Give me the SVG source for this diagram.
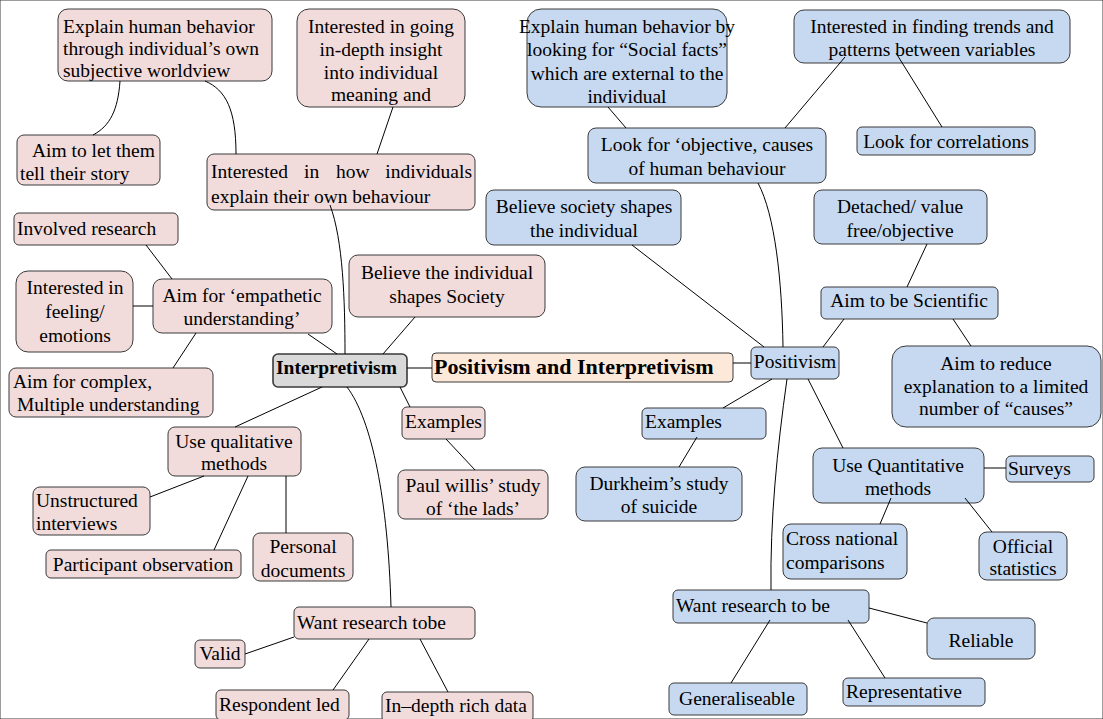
<svg xmlns="http://www.w3.org/2000/svg" width="1103" height="719" viewBox="0 0 1103 719" font-family="'Liberation Serif', 'Times New Roman', Times, 'DejaVu Serif', serif">
  <style>
    text { font-family: "Liberation Serif", "Times New Roman", Times, "DejaVu Serif", serif; font-size: 19.5px; fill: #000; }
    .c { text-anchor: middle; }
    .e { text-anchor: end; }
    .b { font-weight: bold; }
    .big { font-size: 22px; }
    rect { stroke: #3a3a3a; stroke-width: 1; }
    .pk { fill: #f2dcdb; }
    .bl { fill: #c6d9f1; }
    .root { fill: #fde9d9; }
    .gr { fill: #d9d9d9; stroke-width: 1.6; }
    #connectors path, #connectors line { stroke: #000; stroke-width: 1; fill: none; }
  </style>
  <rect width="1103" height="719" fill="#fff" stroke="none"/>

  <!-- centre nodes -->
  <g id="n-root"><rect class="root" x="432" y="353" width="301" height="29" rx="4"/><text class="b big" x="434" y="374">Positivism and Interpretivism</text></g>
  <g id="n-interpretivism"><rect class="gr" x="273" y="354" width="134" height="33" rx="5"/><text class="b" x="276" y="374">Interpretivism</text></g>
  <g id="n-positivism"><rect class="bl" x="751" y="347" width="88" height="32" rx="5"/><text class="c" x="795" y="368">Positivism</text></g>

  <!-- interpretivism nodes -->
  <g id="n-subjective"><rect class="pk" x="58" y="9" width="214" height="72" rx="10"/>
    <text x="63" y="33">Explain human behavior</text><text x="63" y="55">through individual’s own</text><text x="63" y="77">subjective worldview</text></g>
  <g id="n-insight"><rect class="pk" x="297" y="9" width="168" height="98" rx="12"/>
    <text class="c" x="381" y="33">Interested in going</text><text class="c" x="381" y="56">in-depth insight</text><text class="c" x="381" y="79">into individual</text><text class="c" x="381" y="101">meaning and</text></g>
  <g id="n-story"><rect class="pk" x="17" y="135" width="143" height="50" rx="7"/>
    <text x="32" y="157">Aim to let them</text><text x="20" y="180">tell their story</text></g>
  <g id="n-explain-own"><rect class="pk" x="207" y="154" width="268" height="56" rx="7"/>
    <!-- justified first line -->
    <text x="211" y="178">Interested</text><text x="304" y="178">in</text><text x="336" y="178">how</text><text class="e" x="472" y="178">individuals</text>
    <text x="211" y="203">explain their own behaviour</text></g>
  <g id="n-involved"><rect class="pk" x="14" y="213" width="164" height="32" rx="5"/><text x="17" y="235">Involved research</text></g>
  <g id="n-feeling"><rect class="pk" x="16" y="271" width="117" height="81" rx="12"/>
    <text class="c" x="75" y="294">Interested in</text><text class="c" x="75" y="318">feeling/</text><text class="c" x="75" y="342">emotions</text></g>
  <g id="n-empathetic"><rect class="pk" x="153" y="279" width="179" height="54" rx="9"/>
    <text class="c" x="242" y="302">Aim for ‘empathetic</text><text class="c" x="242" y="325">understanding’</text></g>
  <g id="n-complex"><rect class="pk" x="9" y="368" width="204" height="49" rx="7"/>
    <text x="13" y="388">Aim for complex,</text><text x="17" y="411">Multiple understanding</text></g>
  <g id="n-individual-society"><rect class="pk" x="349" y="255" width="196" height="62" rx="9"/>
    <text class="c" x="447" y="279">Believe the individual</text><text class="c" x="447" y="303">shapes Society</text></g>
  <g id="n-examples-i"><rect class="pk" x="402" y="407" width="83" height="32" rx="5"/><text x="405" y="428">Examples</text></g>
  <g id="n-willis"><rect class="pk" x="398" y="470" width="150" height="49" rx="7"/>
    <text class="c" x="473" y="492">Paul willis’ study</text><text class="c" x="473" y="515">of ‘the lads’</text></g>
  <g id="n-qualitative"><rect class="pk" x="168" y="427" width="133" height="49" rx="7"/>
    <text class="c" x="234" y="448">Use qualitative</text><text class="c" x="234" y="470">methods</text></g>
  <g id="n-unstructured"><rect class="pk" x="33" y="487" width="117" height="48" rx="7"/>
    <text x="36" y="507">Unstructured</text><text x="36" y="530">interviews</text></g>
  <g id="n-participant"><rect class="pk" x="46" y="550" width="195" height="28" rx="5"/><text class="c" x="143" y="571">Participant observation</text></g>
  <g id="n-personal"><rect class="pk" x="253" y="533" width="100" height="48" rx="7"/>
    <text class="c" x="303" y="553">Personal</text><text class="c" x="303" y="577">documents</text></g>
  <g id="n-want-i"><rect class="pk" x="294" y="607" width="181" height="32" rx="5"/><text x="297" y="629">Want research tobe</text></g>
  <g id="n-valid"><rect class="pk" x="195" y="640" width="50" height="28" rx="5"/><text class="c" x="220" y="660">Valid</text></g>
  <g id="n-respondent"><rect class="pk" x="216" y="690" width="133" height="30" rx="5"/><text x="219" y="711">Respondent led</text></g>
  <g id="n-indepth"><rect class="pk" x="382" y="692" width="151" height="30" rx="5"/><text x="385" y="712">In–depth rich data</text></g>

  <!-- positivism nodes -->
  <g id="n-social-facts"><rect class="bl" x="527" y="9" width="200" height="98" rx="14"/>
    <text class="c" x="627" y="33">Explain human behavior by</text><text class="c" x="627" y="56">looking for “Social facts”</text><text class="c" x="627" y="80">which are external to the</text><text class="c" x="627" y="103">individual</text></g>
  <g id="n-trends"><rect class="bl" x="794" y="10" width="276" height="53" rx="10"/>
    <text class="c" x="932" y="33">Interested in finding trends and</text><text class="c" x="932" y="56">patterns between variables</text></g>
  <g id="n-objective"><rect class="bl" x="588" y="128" width="238" height="55" rx="8"/>
    <text class="c" x="707" y="151">Look for ‘objective, causes</text><text class="c" x="707" y="175">of human behaviour</text></g>
  <g id="n-correlations"><rect class="bl" x="857" y="127" width="178" height="28" rx="5"/><text class="c" x="946" y="148">Look for correlations</text></g>
  <g id="n-society-shapes"><rect class="bl" x="486" y="190" width="195" height="55" rx="8"/>
    <text class="c" x="584" y="213">Believe society shapes</text><text class="c" x="584" y="237">the individual</text></g>
  <g id="n-detached"><rect class="bl" x="814" y="190" width="173" height="54" rx="8"/>
    <text class="c" x="900" y="213">Detached/ value</text><text class="c" x="900" y="237">free/objective</text></g>
  <g id="n-scientific"><rect class="bl" x="821" y="287" width="177" height="32" rx="5"/><text class="c" x="909" y="307">Aim to be Scientific</text></g>
  <g id="n-reduce"><rect class="bl" x="892" y="346" width="209" height="81" rx="14"/>
    <text class="c" x="996" y="370">Aim to reduce</text><text class="c" x="996" y="393">explanation to a limited</text><text class="c" x="996" y="415">number of “causes”</text></g>
  <g id="n-examples-p"><rect class="bl" x="642" y="408" width="124" height="31" rx="5"/><text x="645" y="428">Examples</text></g>
  <g id="n-durkheim"><rect class="bl" x="576" y="467" width="166" height="54" rx="9"/>
    <text class="c" x="659" y="490">Durkheim’s study</text><text class="c" x="659" y="513">of suicide</text></g>
  <g id="n-quantitative"><rect class="bl" x="813" y="448" width="171" height="55" rx="9"/>
    <text class="c" x="898" y="472">Use Quantitative</text><text class="c" x="898" y="495">methods</text></g>
  <g id="n-surveys"><rect class="bl" x="1006" y="456" width="88" height="26" rx="5"/><text x="1008" y="475">Surveys</text></g>
  <g id="n-cross"><rect class="bl" x="783" y="524" width="124" height="55" rx="8"/>
    <text x="786" y="545">Cross national</text><text x="786" y="569">comparisons</text></g>
  <g id="n-official"><rect class="bl" x="979" y="532" width="88" height="48" rx="8"/>
    <text class="c" x="1023" y="553">Official</text><text class="c" x="1023" y="575">statistics</text></g>
  <g id="n-want-p"><rect class="bl" x="673" y="590" width="196" height="33" rx="5"/><text x="676" y="612">Want research to be</text></g>
  <g id="n-reliable"><rect class="bl" x="927" y="618" width="108" height="41" rx="7"/><text class="c" x="981" y="647">Reliable</text></g>
  <g id="n-generaliseable"><rect class="bl" x="669" y="683" width="138" height="32" rx="5"/><text class="c" x="737" y="705">Generaliseable</text></g>
  <g id="n-representative"><rect class="bl" x="843" y="678" width="142" height="28" rx="5"/><text x="846" y="698">Representative</text></g>

  <g id="connectors">
    <!-- centre -->
    <line x1="407" y1="368" x2="432" y2="368"/>
    <line x1="733" y1="363" x2="751" y2="363"/>
    <!-- interpretivism branch -->
    <path d="M330,205 C343,240 345,300 345,354"/>
    <path d="M236,154 C236,110 226,90 205,81"/>
    <line x1="377" y1="154" x2="393" y2="107"/>
    <path d="M120,81 C118,110 110,126 93,135"/>
    <line x1="308" y1="334" x2="337" y2="354"/>
    <line x1="383" y1="354" x2="415" y2="317"/>
    <line x1="146" y1="245" x2="172" y2="279"/>
    <line x1="133" y1="306" x2="153" y2="306"/>
    <line x1="196" y1="333" x2="173" y2="368"/>
    <line x1="322" y1="387" x2="235" y2="427"/>
    <line x1="400" y1="387" x2="410" y2="407"/>
    <line x1="446" y1="439" x2="475" y2="470"/>
    <path d="M347,387 C372,420 388,500 391,607"/>
    <line x1="204" y1="476" x2="150" y2="497"/>
    <line x1="248" y1="476" x2="214" y2="550"/>
    <line x1="286" y1="476" x2="286" y2="533"/>
    <line x1="294" y1="637" x2="245" y2="654"/>
    <line x1="369" y1="639" x2="333" y2="690"/>
    <line x1="420" y1="639" x2="448" y2="692"/>
    <!-- positivism branch -->
    <path d="M758,183 C775,215 782,280 783,347"/>
    <line x1="764" y1="347" x2="632" y2="245"/>
    <line x1="823" y1="347" x2="844" y2="319"/>
    <line x1="772" y1="379" x2="723" y2="408"/>
    <line x1="808" y1="379" x2="843" y2="448"/>
    <path d="M787,379 C777,450 770,520 771,590"/>
    <line x1="608" y1="107" x2="626" y2="128"/>
    <line x1="785" y1="128" x2="845" y2="57"/>
    <line x1="896" y1="53" x2="942" y2="127"/>
    <line x1="927" y1="244" x2="907" y2="287"/>
    <line x1="953" y1="319" x2="971" y2="346"/>
    <line x1="697" y1="437" x2="679" y2="467"/>
    <line x1="984" y1="468" x2="1006" y2="468"/>
    <line x1="891" y1="498" x2="880" y2="524"/>
    <line x1="965" y1="498" x2="992" y2="532"/>
    <line x1="869" y1="608" x2="927" y2="623"/>
    <line x1="770" y1="620" x2="731" y2="683"/>
    <line x1="848" y1="620" x2="885" y2="678"/>
  </g>
</svg>
